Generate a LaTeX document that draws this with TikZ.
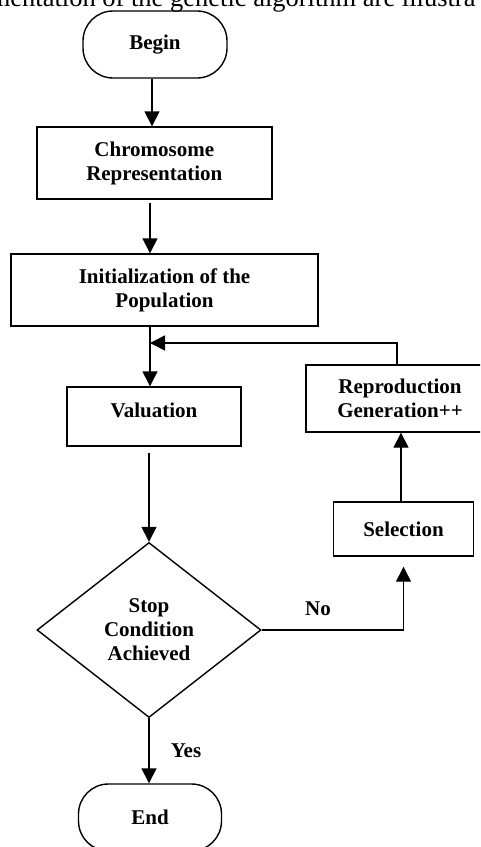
\documentclass[tikz,border=0pt]{standalone}
\usepackage{fontspec}
\setmainfont{Liberation Serif}
\usetikzlibrary{arrows.meta,shapes.geometric}

\begin{document}
\begin{tikzpicture}[x=1pt,y=-1pt,
    every node/.style={font=\bfseries\fontsize{21}{24}\selectfont,align=center},
    blk/.style={draw,line width=1.4pt,rectangle,inner sep=0pt},
    term/.style={blk,rounded corners=30pt,minimum width=144pt,minimum height=67pt},
    cond/.style={draw,line width=1.4pt,diamond,inner sep=0pt,minimum width=224pt,minimum height=175pt},
    flow/.style={line width=1.4pt,-{Triangle[length=15pt,width=15pt]}}]
  \useasboundingbox (0,0) rectangle (480,847);
  \clip (0,0) rectangle (480,847);

  \draw (479,6) node[anchor=base east,font=\fontsize{26.5}{30}\selectfont] (caption) {mentation of the genetic algorithm are illustra};

  \draw (155,44.5) node[term] (begin) {Begin};
  \draw (154.3,163) node[blk,minimum width=235pt,minimum height=72pt] (chrom) {Chromosome\\Representation};
  \draw (164.5,290) node[blk,minimum width=307pt,minimum height=72pt] (init) {Initialization of the\\Population};
  \draw (154,416.5) node[blk,minimum width=174pt,minimum height=59pt] (val) {Valuation\\[-12pt]};
  \draw (149,630) node[cond] (stop) {Stop\\Condition\\Achieved};
  \draw (150,817.5) node[term,minimum width=143pt] (end) {End};
  \draw (400,398.5) node[blk,minimum width=188pt,minimum height=67pt] (repro) {Reproduction\\Generation++};
  \draw (403.5,529) node[blk,minimum width=140pt,minimum height=54pt] (sel) {Selection};
  \draw (318,609) node (no) {No};
  \draw (186,751) node (yes) {Yes};
  \coordinate (back) at (150,343);

  \draw[flow] (begin.south -| 152,0) -- (chrom.north -| 152,0);
  \draw[flow,shorten <=3pt] (chrom.south -| back) -- (init.north -| back);
  \draw[flow] (init.south -| back) -- (val.north -| back);
  \draw[flow,shorten <=6pt] (val.south -| stop) -- (stop.north);
  \draw[flow] (stop.south) -- (end.north -| stop);
  \draw[flow,shorten >=10pt] (stop.east) -| (sel.south);
  \draw[flow] (sel.north -| 401,0) -- (repro.south -| 401,0);
  \draw[flow] ([xshift=-3pt]repro.north) |- (back);

\end{tikzpicture}
\end{document}
